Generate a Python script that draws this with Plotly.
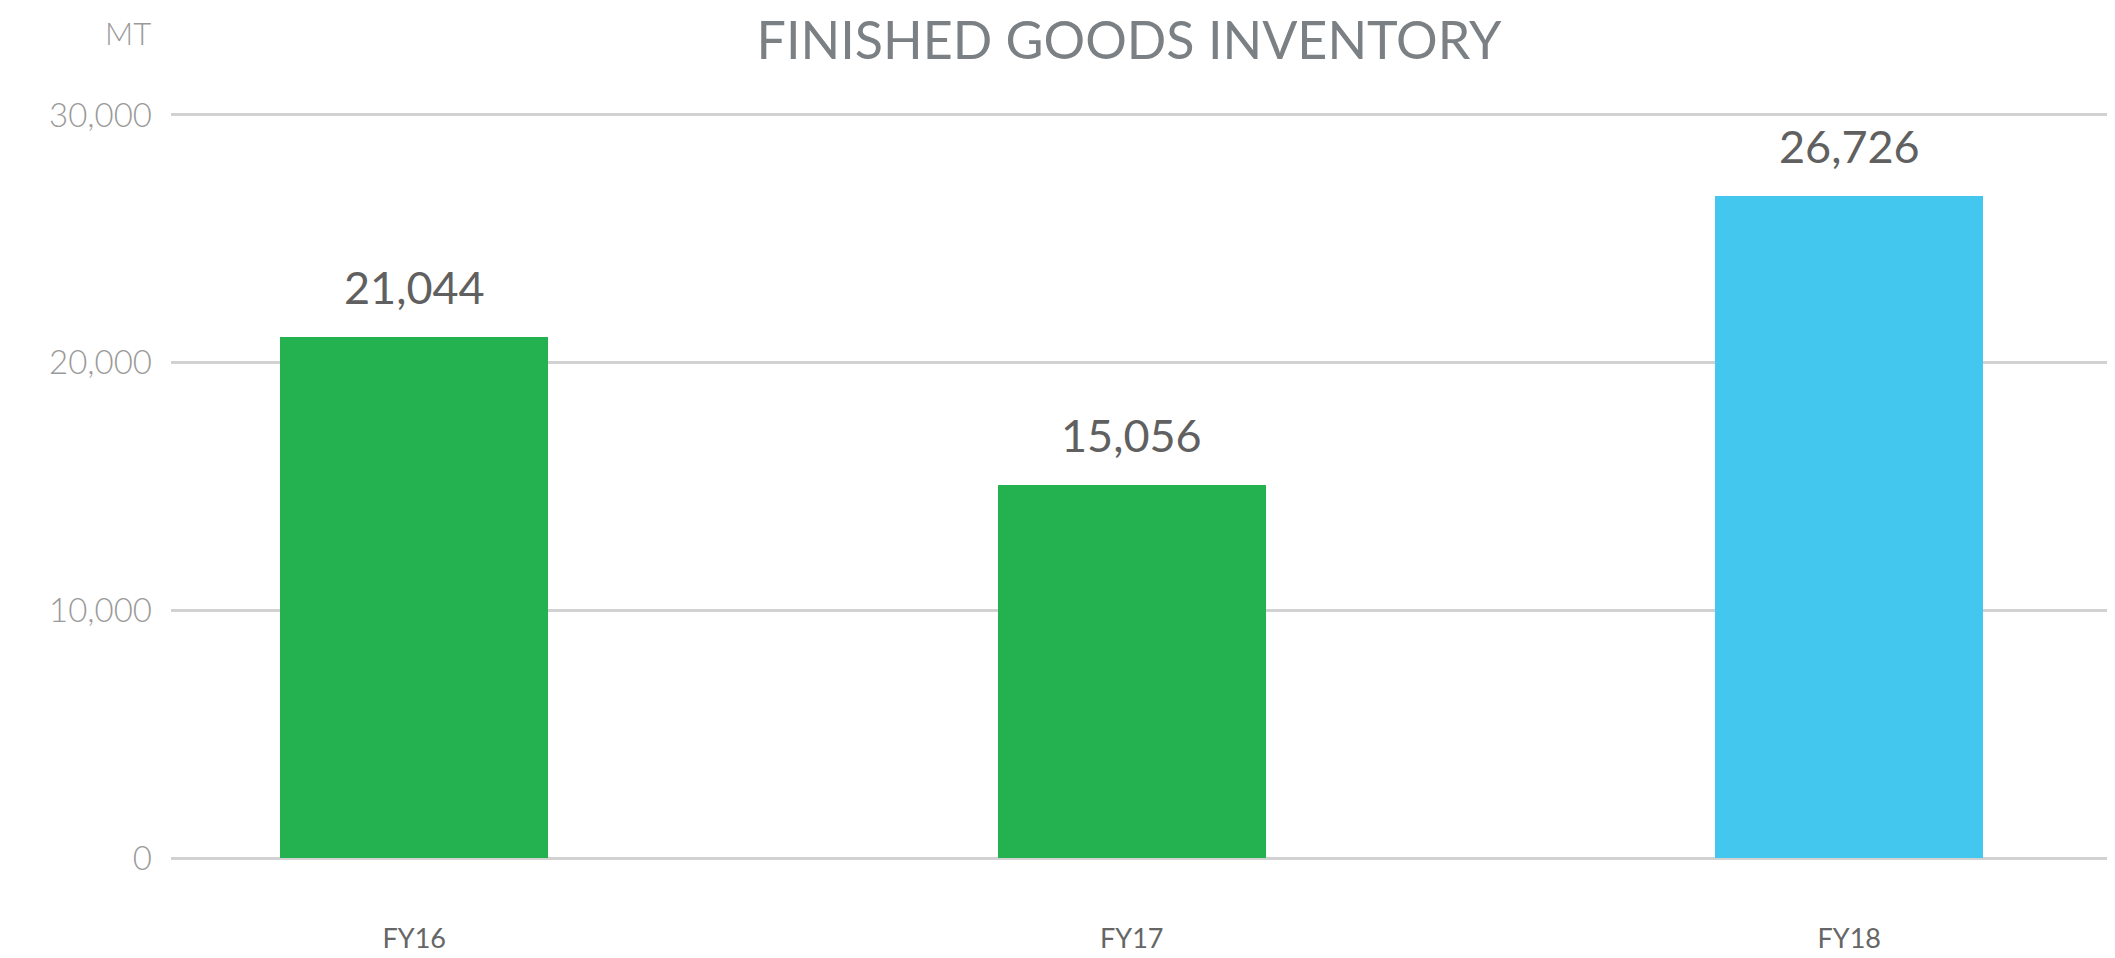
import plotly.graph_objects as go

categories = ["FY16", "FY17", "FY18"]
values = [21044, 15056, 26726]
colors = ["#23B24F", "#23B24F", "#44C7EE"]
value_labels = ["21,044", "15,056", "26,726"]
tick_vals = [0, 10000, 20000, 30000]
tick_text = ["0", "10,000", "20,000", "30,000"]

fig = go.Figure()
fig.add_trace(go.Bar(
    x=categories, y=values, marker=dict(color=colors, line=dict(width=0)),
    width=0.374, showlegend=False, hoverinfo="skip",
))

for c, v, t in zip(categories, values, value_labels):
    fig.add_annotation(x=c, y=v, text=t, showarrow=False, yanchor="bottom",
                       yshift=21, font=dict(family="Lato", size=45, color="#606060"))

fig.add_annotation(xref="paper", yref="paper", x=-0.0095, y=1.0, yshift=80,
                   text="MT", showarrow=False, xanchor="right", yanchor="middle",
                   font=dict(family="Lato", size=31, color="#9a9a9a", weight=300))

fig.update_layout(
    width=2115, height=958,
    margin=dict(l=163, r=14, t=105, b=93),
    paper_bgcolor="white", plot_bgcolor="white",
    title=dict(text="FINISHED GOODS INVENTORY", x=0.530, xanchor="center",
               xref="container", y=1 - 33 / 958, yref="container", yanchor="middle",
               font=dict(family="Lato", size=52, color="#7b8085")),
    xaxis=dict(range=[-0.339, 2.362], showgrid=False, zeroline=False, showline=False,
               ticks="", ticklabelstandoff=62,
               tickfont=dict(family="Lato", size=27, color="#666666")),
    yaxis=dict(range=[0, 30080], tickvals=tick_vals, ticktext=tick_text,
               showgrid=True, gridcolor="#d2d2d2", gridwidth=2.5,
               zeroline=True, zerolinecolor="#d2d2d2", zerolinewidth=2.5,
               showline=False, ticks="", ticklabelstandoff=18,
               tickfont=dict(family="Lato", size=33, color="#9a9a9a", weight=300)),
    bargap=0,
)

fig.write_html("out.html")
